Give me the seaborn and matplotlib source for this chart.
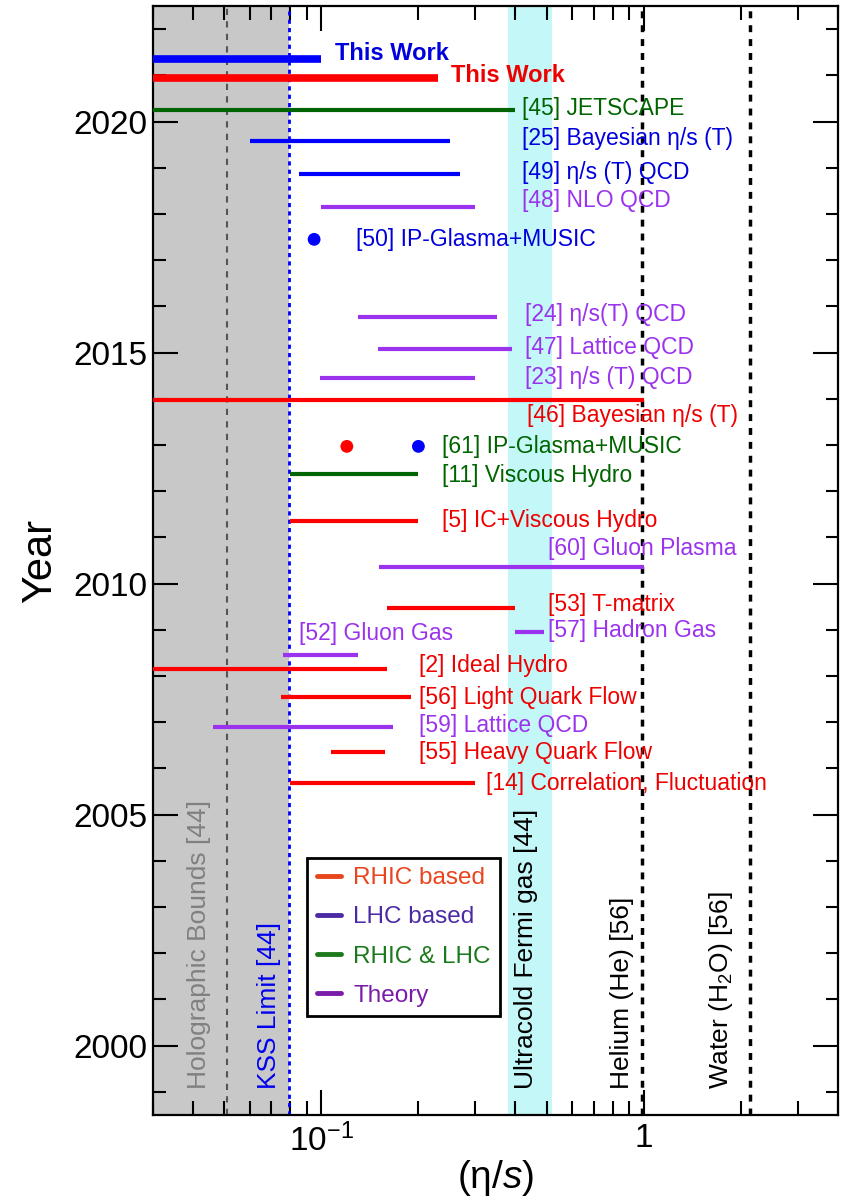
import matplotlib
matplotlib.use("Agg")
import matplotlib.pyplot as plt
import numpy as np
import pandas as pd
import seaborn as sns
from matplotlib.lines import Line2D
from matplotlib.ticker import FixedLocator, LogLocator, NullFormatter, MultipleLocator

# ---- data ----
studies = ["This Work (LHC)", "This Work (RHIC)", "[45] JETSCAPE", "[25] Bayesian η/s (T)",
           "[49] η/s (T) QCD", "[48] NLO QCD", "[24] η/s(T) QCD", "[47] Lattice QCD",
           "[23] η/s (T) QCD", "[46] Bayesian η/s (T)", "[11] Viscous Hydro",
           "[5] IC+Viscous Hydro", "[60] Gluon Plasma", "[53] T-matrix", "[57] Hadron Gas",
           "[52] Gluon Gas", "[2] Ideal Hydro", "[56] Light Quark Flow", "[59] Lattice QCD",
           "[55] Heavy Quark Flow", "[14] Correlation, Fluctuation"]
years = [2021.36, 2020.95, 2020.26, 2019.57, 2018.87, 2018.16, 2015.76, 2015.07,
         2014.46, 2013.98, 2012.37, 2011.36, 2010.37, 2009.47, 2008.96, 2008.46,
         2008.16, 2007.55, 2006.89, 2006.36, 2005.68]
eta_lo = [0.01, 0.01, 0.01, 0.06, 0.085, 0.10, 0.13, 0.15, 0.099, 0.01, 0.08,
          0.08, 0.151, 0.16, 0.40, 0.076, 0.01, 0.075, 0.046, 0.107, 0.08]
eta_hi = [0.10, 0.23, 0.40, 0.25, 0.27, 0.30, 0.35, 0.39, 0.30, 1.0, 0.20,
          0.20, 1.0, 0.40, 0.49, 0.13, 0.16, 0.19, 0.167, 0.158, 0.30]
groups = ["blue", "red", "green", "blue", "blue", "purple", "purple", "purple",
          "purple", "red", "green", "red", "purple", "red", "purple", "purple",
          "red", "red", "purple", "red", "red"]

point_study = ["[50] IP-Glasma+MUSIC", "[61] IP-Glasma+MUSIC", "[61] IP-Glasma+MUSIC"]
point_year = [2017.45, 2012.97, 2012.97]
point_eta = [0.095, 0.12, 0.20]
point_group = ["blue", "red", "blue"]

# label anchors (data units)
label_text = ["This Work", "This Work", "[45] JETSCAPE", "[25] Bayesian η/s (T)",
              "[49] η/s (T) QCD", "[48] NLO QCD", "[24] η/s(T) QCD", "[47] Lattice QCD",
              "[23] η/s (T) QCD", "[46] Bayesian η/s (T)", "[11] Viscous Hydro",
              "[5] IC+Viscous Hydro", "[60] Gluon Plasma", "[53] T-matrix", "[57] Hadron Gas",
              "[52] Gluon Gas", "[2] Ideal Hydro", "[56] Light Quark Flow", "[59] Lattice QCD",
              "[55] Heavy Quark Flow", "[14] Correlation, Fluctuation",
              "[50] IP-Glasma+MUSIC", "[61] IP-Glasma+MUSIC"]
label_x = [0.110, 0.252, 0.419, 0.419, 0.419, 0.419, 0.428, 0.428, 0.428, 0.435,
           0.237, 0.237, 0.506, 0.506, 0.506, 0.0855, 0.201, 0.201, 0.201, 0.201,
           0.324, 0.128, 0.237]
label_y = [2021.47, 2021.0, 2020.28, 2019.63, 2018.9, 2018.29, 2015.82, 2015.1,
           2014.46, 2013.64, 2012.34, 2011.36, 2010.76, 2009.55, 2008.98, 2008.92,
           2008.22, 2007.53, 2006.93, 2006.34, 2005.67, 2017.45, 2012.97]
label_group = groups + ["blue", "green"]

holo_bound = 0.0509
kss_limit = 0.0796
fermi_band = (0.38, 0.52)
helium = 0.99
water = 2.14

legend_names = ["RHIC based", "LHC based", "RHIC & LHC", "Theory"]
legend_colors = ["#E8451C", "#4B2BA3", "#1C7A1C", "#7A1BAA"]

palette = {"red": "#FF0000", "blue": "#0000FF", "green": "#006400", "purple": "#9B33EE"}
text_colors = {"red": "#EE0000", "blue": "#0000DD", "green": "#006400", "purple": "#9B33EE"}

# ---- style ----
sns.set_style("ticks")
plt.rcParams["font.family"] = ["Liberation Sans", "DejaVu Sans"]
plt.rcParams["mathtext.fontset"] = "custom"
plt.rcParams["mathtext.rm"] = "Liberation Sans"
plt.rcParams["mathtext.it"] = "Liberation Sans:italic"
plt.rcParams["text.color"] = "black"
plt.rcParams["axes.labelcolor"] = "black"
plt.rcParams["xtick.color"] = "black"
plt.rcParams["ytick.color"] = "black"

fig = plt.figure(figsize=(8.41, 12.01), dpi=100)
ax = fig.add_axes([0.1815, 0.0716, 0.8150, 0.9234])

# long table: two rows per segment
seg = pd.DataFrame({"study": studies * 2, "year": years * 2,
                    "eta": eta_lo + eta_hi, "group": groups * 2})
main = seg[~seg["study"].str.startswith("This Work")]
work = seg[seg["study"].str.startswith("This Work")]

ax.axvspan(0.001, kss_limit, color="#C8C8C8", lw=0, zorder=0)
ax.axvspan(*fermi_band, color="#C4F7F8", lw=0, zorder=0)
ax.axvline(holo_bound, color="#555555", ls=(0, (3, 3)), lw=1.5, zorder=1)
ax.axvline(kss_limit, color="#0000FF", ls=(0, (1.5, 1.5)), lw=2, zorder=1)
ax.axvline(helium, color="black", ls=(0, (2, 2)), lw=2.5, zorder=1)
ax.axvline(water, color="black", ls=(0, (2, 2)), lw=2.5, zorder=1)

sns.lineplot(data=main, x="eta", y="year", hue="group", units="study", estimator=None,
             palette=palette, lw=3, legend=False, ax=ax, sort=False,
             solid_capstyle="butt", zorder=3)
sns.lineplot(data=work, x="eta", y="year", hue="group", units="study", estimator=None,
             palette=palette, lw=5.5, legend=False, ax=ax, sort=False,
             solid_capstyle="butt", zorder=3)

pts = pd.DataFrame({"study": point_study, "year": point_year,
                    "eta": point_eta, "group": point_group})
sns.scatterplot(data=pts, x="eta", y="year", hue="group", palette=palette, s=85,
                edgecolor="none", legend=False, ax=ax, zorder=4)

for t, x, y, g in zip(label_text, label_x, label_y, label_group):
    bold = t == "This Work"
    ax.text(x, y, t, color=text_colors[g], ha="left", va="center",
            fontsize=17 if bold else 16.5, fontweight="bold" if bold else "normal",
            zorder=5)

vlabels = [(0.0419, "Holographic Bounds [44]", "#808080"),
           (0.0688, "KSS Limit [44]", "#0000EE"),
           (0.431, "Ultracold Fermi gas [44]", "black"),
           (0.855, "Helium (He) [56]", "black"),
           (1.74, "Water (H$_2$O) [56]", "black")]
for x, t, c in vlabels:
    ax.text(x, 1999.07, t, rotation=90, ha="center", va="bottom", color=c, fontsize=19)

ax.set_xscale("log")
ax.set_xlim(0.03, 4.0)
ax.set_ylim(1998.5, 2022.5)
ax.xaxis.set_major_locator(FixedLocator([0.1, 1.0]))
ax.set_xticklabels(["$10^{-1}$", "1"])
ax.xaxis.set_minor_locator(LogLocator(base=10, subs=np.arange(2, 10)))
ax.xaxis.set_minor_formatter(NullFormatter())
ax.set_yticks([2000, 2005, 2010, 2015, 2020])
ax.yaxis.set_minor_locator(MultipleLocator(1))

ax.tick_params(which="both", direction="in", top=True, right=True, labelsize=24, width=1.5)
ax.tick_params(axis="y", which="major", length=18)
ax.tick_params(axis="y", which="minor", length=9)
ax.tick_params(axis="x", which="major", length=18, pad=6)
ax.tick_params(axis="x", which="minor", length=10)
for s in ax.spines.values():
    s.set_linewidth(1.6)
    s.set_color("black")

ax.set_xlabel("(η/$s$)", fontsize=28, labelpad=0)
ax.set_ylabel("Year", fontsize=30, labelpad=10)

handles = [Line2D([], [], color=c, lw=3.5) for c in legend_colors]
leg = ax.legend(handles, legend_names, loc="upper left", bbox_to_anchor=(0.225, 0.232),
                borderaxespad=0, fontsize=17.5, handlelength=1.0, handletextpad=0.5,
                labelspacing=0.7, frameon=True, fancybox=False, framealpha=1,
                borderpad=0.4)
leg.get_frame().set_edgecolor("black")
leg.get_frame().set_linewidth(2)
for txt, c in zip(leg.get_texts(), legend_colors):
    txt.set_color(c)

fig.savefig("out.png", dpi=100)
